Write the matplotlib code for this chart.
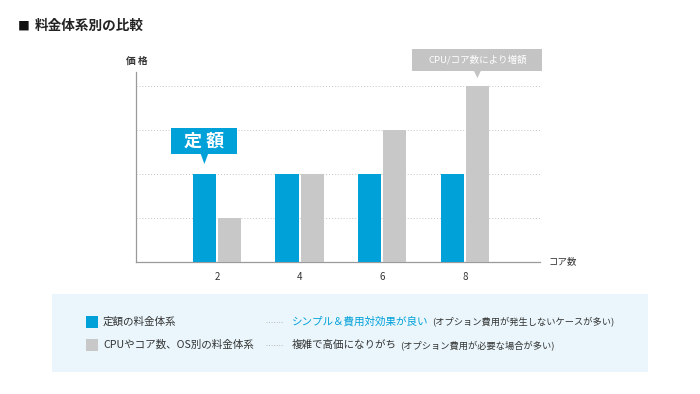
import matplotlib
matplotlib.use("Agg")
import numpy as np
from matplotlib import pyplot as plt
from matplotlib.patches import Rectangle, Polygon
from matplotlib.text import Annotation
from matplotlib.transforms import ScaledTranslation

plt.rcParams['font.family'] = ['Noto Sans CJK JP', 'DejaVu Sans']

# data
cores = ["2", "4", "6", "8"]
flat_price = [2, 2, 2, 2]
per_core_price = [1, 2, 3, 4]

title = "料金体系別の比較"
y_label = "価 格"
x_label = "コア数"
flat_callout = "定 額"
core_callout = "CPU/コア数により増額"
legend_names = ["定額の料金体系", "CPUやコア数、OS別の料金体系"]
legend_main = ["シンプル＆費用対効果が良い", "複雑で高価になりがち"]
legend_note = ["(オプション費用が発生しないケースが多い)", "(オプション費用が必要な場合が多い)"]

BLUE = "#00a0d9"
GRAY = "#c8c8c8"
TEXT = "#333333"

W, H = 700, 394
fig = plt.figure(figsize=(W / 100, H / 100), dpi=100)
fig.patch.set_facecolor("white")

ax = fig.add_axes([136 / W, 1 - 262 / H, (540 - 136) / W, (262 - 72) / H])
x = np.arange(len(cores))
bw = 0.28
off = 0.152
ax.bar(x - off, flat_price, bw, color=BLUE, zorder=3)
ax.bar(x + off, per_core_price, bw, color=GRAY, zorder=3)

ax.set_xlim(-0.98, 3.91)
ax.set_ylim(0, 4.32)
ax.set_yticks([1, 2, 3, 4])
ax.set_yticklabels([])
ax.yaxis.grid(True, linestyle=(0, (1, 2)), color="#c4c4c4", linewidth=0.7, zorder=0)
ax.set_xticks(x)
ax.set_xticklabels(cores, fontsize=7, color=TEXT)
ax.tick_params(length=0, pad=7)
for s in ["top", "right"]:
    ax.spines[s].set_visible(False)
for s in ["left", "bottom"]:
    ax.spines[s].set_color("#9a9a9a")
    ax.spines[s].set_linewidth(0.9)

ax.text(-0.98 - 0.12, 4.32 + 0.25, y_label, fontsize=7, color=TEXT, weight="bold",
        ha="left", va="center", transform=ax.transData, clip_on=False)
ax.text(1.02, 0, x_label, fontsize=6.8, color=TEXT, ha="left", va="center",
        transform=ax.transAxes)


def callout(bx, by, w, h, gap, tip, color, text, fs, weight):
    # box and pointer sized in pixels, anchored at a bar top
    tr = fig.dpi_scale_trans + ScaledTranslation(bx, by, ax.transData)
    ax.add_patch(Rectangle((-w / 200, gap / 100), w / 100, h / 100, transform=tr,
                           facecolor=color, edgecolor="none", clip_on=False, zorder=5))
    ax.add_patch(Polygon([(-0.04, gap / 100 + 0.01), (0.04, gap / 100 + 0.01), (0, tip / 100)],
                         transform=tr, facecolor=color, edgecolor="none", clip_on=False, zorder=5))
    ax.text(0, (gap + h / 2) / 100, text, transform=tr, ha="center", va="center",
            color="white", fontsize=fs, weight=weight, zorder=6)


callout(x[0] - off, flat_price[0], 66, 26, 20, 10, BLUE, flat_callout, 13, "bold")
callout(x[3] + off, per_core_price[3], 130, 22, 15.3, 8, "#c4c4c4", core_callout, 6.8, "normal")

# title
fig.text(18 / W, 1 - 26 / H, "■", fontsize=8.5, color="#111111", ha="left", va="center")
fig.text(35 / W, 1 - 26 / H, title, fontsize=9.8, color="#222222", weight="bold",
         ha="left", va="center")

# legend panel
fig.add_artist(Rectangle((52 / W, 1 - 372 / H), 596 / W, 78 / H, transform=fig.transFigure,
                         facecolor="#eaf6fb", edgecolor="none"))
rows_y = [321.5, 345]
for i, (col, name) in enumerate(zip([BLUE, GRAY], legend_names)):
    yy = 1 - rows_y[i] / H
    fig.add_artist(Rectangle((86 / W, yy - 6 / H), 12 / W, 12 / H, transform=fig.transFigure,
                             facecolor=col, edgecolor="none"))
    fig.text(103 / W, yy, name, fontsize=7.6, color=TEXT, ha="left", va="center")
    fig.add_artist(plt.Line2D([266 / W, 283 / W], [yy, yy], transform=fig.transFigure,
                              color="#b8b8b8", linewidth=0.7, linestyle=(0, (1, 1.6))))
    main = fig.text(292 / W, yy, legend_main[i], fontsize=7.6,
                    color=BLUE if i == 0 else TEXT, ha="left", va="center")
    note = Annotation(legend_note[i], xy=(1, 0.5), xycoords=main, xytext=(2.5, 0),
                      textcoords="offset points", fontsize=6.65, color=TEXT,
                      ha="left", va="center")
    fig.add_artist(note)

fig.savefig("out.png", dpi=100)
